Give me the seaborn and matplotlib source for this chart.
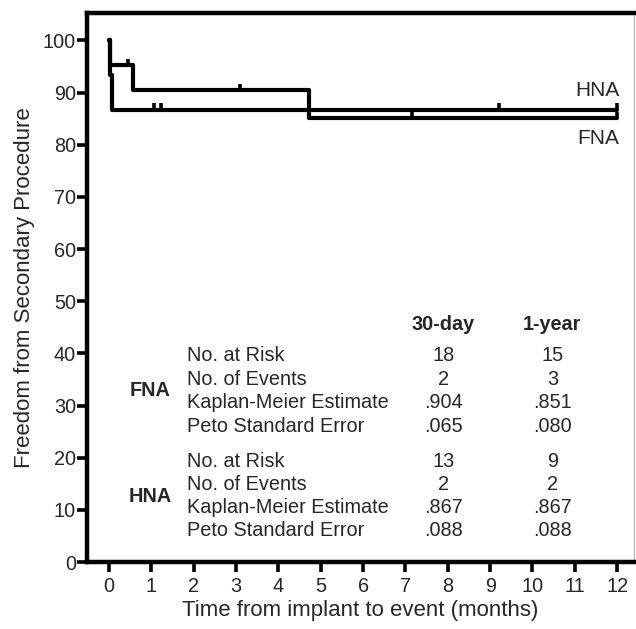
import numpy as np
import pandas as pd
import seaborn as sns
from matplotlib import pyplot as plt

# Kaplan-Meier step data (months, % free from secondary procedure)
fna_time = [0, 0.02, 0.57, 4.72, 12]
fna_surv = [100, 95.2, 90.4, 85.1, 85.1]
hna_time = [0, 0.02, 0.07, 12]
hna_surv = [100, 93.3, 86.7, 86.7]

# censored observations
fna_cens = [0.45, 3.1, 7.15, 12]
hna_cens = [1.05, 1.22, 9.2, 12]

# summary table
col_heads = ['30-day', '1-year']
row_names = ['No. at Risk', 'No. of Events', 'Kaplan-Meier Estimate', 'Peto Standard Error']
fna_30 = ['18', '2', '.904', '.065']
fna_1y = ['15', '3', '.851', '.080']
hna_30 = ['13', '2', '.867', '.088']
hna_1y = ['9', '2', '.867', '.088']

sns.set_style('ticks')
plt.rcParams['font.family'] = ['Liberation Sans', 'DejaVu Sans']

fig = plt.figure(figsize=(6.36, 6.29), dpi=100)
ax = fig.add_axes([0.137, 0.1065, 0.86, 0.8725])

df = pd.concat([
    pd.DataFrame({'t': fna_time, 's': fna_surv, 'grp': 'FNA'}),
    pd.DataFrame({'t': hna_time, 's': hna_surv, 'grp': 'HNA'}),
])
sns.lineplot(data=df, x='t', y='s', units='grp', estimator=None, color='black',
             drawstyle='steps-post', lw=3.0, ax=ax)


def surv_at(times, tt, ss):
    idx = np.searchsorted(tt, times, side='right') - 1
    return np.array(ss)[idx]


for cens, tt, ss in [(fna_cens, fna_time, fna_surv), (hna_cens, hna_time, hna_surv)]:
    yv = surv_at(cens, tt, ss)
    ax.vlines(cens, yv, yv + 1.2, color='black', lw=2.6)

ax.set_xlim(-0.52, 12.4)
ax.set_ylim(0, 105.2)
ax.set_xticks(range(0, 13))
ax.set_yticks(range(0, 101, 10))
ax.tick_params(axis='both', labelsize=14.3, width=2.6, length=7, color='black')
ax.tick_params(axis='y', pad=1)
ax.tick_params(axis='x', pad=4)

for side in ['left', 'bottom', 'top']:
    ax.spines[side].set_linewidth(3.2)
    ax.spines[side].set_color('black')
ax.spines['right'].set_visible(True)
ax.spines['right'].set_linewidth(1)
ax.spines['right'].set_color('#bbbbbb')

ax.set_xlabel('Time from implant to event (months)', fontsize=16, labelpad=3)
ax.set_ylabel('Freedom from Secondary Procedure', fontsize=16, labelpad=6)

# curve labels
ax.text(12.05, 90.4, 'HNA', fontsize=15, ha='right', va='center')
ax.text(12.05, 81.2, 'FNA', fontsize=15, ha='right', va='center')

# table
fs = 14.3
col_x = [7.89, 10.47]
for cx, h in zip(col_x, col_heads):
    ax.text(cx, 45.6, h, fontsize=fs, fontweight='bold', ha='center', va='center')

fna_rows_y = [39.5, 34.9, 30.5, 25.9]
hna_rows_y = [19.2, 14.8, 10.5, 6.1]
for grp, rows_y, v30, v1y, gy in [('FNA', fna_rows_y, fna_30, fna_1y, 32.8),
                                   ('HNA', hna_rows_y, hna_30, hna_1y, 12.6)]:
    ax.text(0.97, gy, grp, fontsize=fs, fontweight='bold', ha='center', va='center')
    for y, name, a, b in zip(rows_y, row_names, v30, v1y):
        ax.text(1.84, y, name, fontsize=fs, ha='left', va='center')
        ax.text(col_x[0], y, a, fontsize=fs, ha='center', va='center')
        ax.text(col_x[1], y, b, fontsize=fs, ha='center', va='center')

plt.savefig('out.png', dpi=100)
